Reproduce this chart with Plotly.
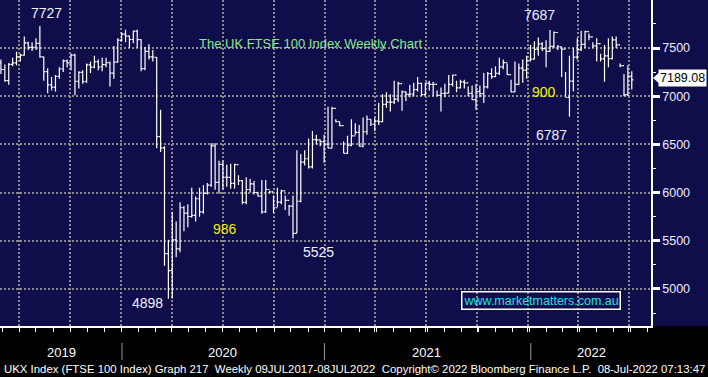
import pandas as pd
import plotly.graph_objects as go

# Weekly FTSE 100 OHLC (week ending Fridays)
opens = [7349,7277,7161,7331,7346,7407,7426,7553,7506,7508,7549,7407,7254,7117,7095,7207,7282,7367,7345,7426,
         7155,7247,7150,7324,7302,7359,7303,7327,7347,7240,7353,7582,
         7645,7623,7588,7675,7586,7286,7466,7409,7404,6581,6463,5366,5191,5510,5416,5843,5787,5752,
         5763,5936,5800,5993,6077,6484,6105,6292,6159,6157,6095,6290,6124,5898,6032,6090,6001,5963,
         5799,6032,6007,5843,5902,6017,5920,5860,5577,5910,6316,6351,6266,6550,6546,6529,
         6502,6461,6873,6736,6695,6407,6489,6589,6624,6483,6631,6761,6709,6741,6737,6916,6938,6938,
         6970,7130,7044,7018,7023,7069,7134,7017,7136,7123,7122,7008,7028,7032,7123,7218,7087,7148,
         7138,7029,6964,7051,7027,7096,7234,7204,7237,7304,7348,7224,7044,7122,7291,7270,7373,
         7385,7485,7543,7494,7466,7516,7661,7513,7489,6987,7156,7405,7483,7538,7670,7616,7522,
         7545,7388,7418,7390,7585,7533,7318,7016,7209,7169]
highs = [7380,7330,7345,7400,7460,7440,7620,7565,7560,7600,7727,7410,7290,7200,7220,7300,7380,7380,7440,7440,
         7260,7270,7340,7360,7420,7380,7400,7400,7360,7520,7600,7660,
         7690,7630,7680,7690,7590,7510,7540,7480,7405,6860,6480,5510,5800,5700,5900,5860,5880,6050,
         5960,6050,6080,6100,6511,6511,6330,6330,6290,6300,6300,6180,6130,6160,6140,6120,6010,6130,
         6130,6020,5970,6050,6030,5970,5870,5970,6440,6400,6440,6560,6640,6600,6550,
         6600,6890,6890,6760,6730,6530,6590,6760,6720,6700,6780,6800,6760,6780,6930,7020,7040,7020,
         7160,7150,7060,7050,7120,7140,7200,7140,7140,7160,7150,7060,7090,7130,7220,7220,7160,7170,
         7170,7100,7110,7130,7110,7240,7250,7290,7310,7400,7380,7340,7170,7360,7340,7380,7420,
         7530,7570,7610,7560,7580,7687,7670,7530,7510,7250,7420,7500,7600,7680,7680,7650,7560,
         7600,7440,7530,7600,7620,7620,7340,7230,7320,7260]
lows  = [7230,7150,7120,7310,7320,7360,7420,7480,7470,7480,7400,7160,7030,7060,7050,7180,7250,7300,7270,7010,
         7080,7130,7140,7240,7290,7270,7260,7300,7100,7180,7350,7570,
         7560,7500,7550,7500,7260,7270,7380,7360,6460,6420,5240,4898,4900,5330,5380,5600,5640,5740,
         5700,5750,5780,5980,6060,6030,5990,6030,6060,6040,6040,6080,5880,5880,6000,5980,5960,5780,
         5790,5990,5790,5850,5880,5820,5760,5525,5580,5900,6280,6250,6250,6500,6480,6310,
         6460,6460,6730,6690,6410,6400,6480,6600,6480,6470,6600,6690,6640,6700,6730,6880,6840,6920,
         6940,6850,6950,6990,7000,7050,7000,7010,7060,7000,7000,6840,6990,7030,7100,7040,7080,7080,
         7000,6960,6860,6990,6930,7080,7180,7200,7220,7280,7220,7040,7040,7120,7140,7180,7360,
         7380,7420,7470,7300,7460,7500,7480,7200,7000,6787,7050,7380,7470,7500,7580,7500,7360,
         7360,7150,7300,7380,7500,7300,7000,7000,7070,7030]
closes = opens[1:] + [7189.08]

last_price = 7189.08
y_ticks = [5000, 5500, 6000, 6500, 7000, 7500]
year_labels = ["2019", "2020", "2021", "2022"]
notes = ["7727", "7687", "6787", "4898", "5525"]
drops = ["986", "900"]
title_text = "The UK FTSE 100 Index Weekly Chart"
site_text = "www.marketmatters.com.au"
footer_text = ("UKX Index (FTSE 100 Index) Graph 217\u00a0 Weekly 09JUL2017-08JUL2022\u00a0 "
               "Copyright\u00a9 2022 Bloomberg Finance L.P.\u00a0 08-Jul-2022 07:13:47")

dates = pd.date_range("2019-05-24", periods=len(opens), freq="W-FRI")

W, H = 708, 377
PL, PR, PT, PB = 0, 57, 0, 51
pw, ph = W - PL - PR, H - PT - PB


def px(x):
    return (x - PL) / pw


def py(y):
    return (PT + ph - y) / ph


ref = pd.Timestamp("2020-02-28")
ppw = 3.894
x0 = ref - pd.Timedelta(days=156.7 / ppw * 7)
x1 = ref + pd.Timedelta(days=(pw - 156.7) / ppw * 7)

NAVY = "#100e4a"
GRID = "#8a8a8a"
FONT = "Liberation Sans, Arial"

fig = go.Figure(go.Ohlc(
    x=dates, open=opens, high=highs, low=lows, close=closes,
    increasing=dict(line=dict(color="white", width=1.2)),
    decreasing=dict(line=dict(color="white", width=1.2)),
    tickwidth=0.45, showlegend=False, hoverinfo="skip"))

ann = []


def label(text, x, y, size, color, **kw):
    d = dict(text=text, x=px(x), y=py(y), xref="paper", yref="paper", showarrow=False,
             xanchor="center", yanchor="middle", font=dict(family=FONT, size=size, color=color))
    d.update(kw)
    ann.append(d)


txt_col = "#eef0ff"
num_pos = [(46, 12.5), (539.5, 15), (551, 135), (147, 302.5), (318, 252)]
for t, (ax_, ay_) in zip(notes, num_pos):
    label(t, ax_, ay_, 14, txt_col)
for t, (ax_, ay_) in zip(drops, [(224.7, 229), (543.7, 92)]):
    label(t, ax_, ay_, 14, "#f2f200")
label(title_text, 310.5, 43, 13, "#86e88e")
label(site_text, 540.5, 300, 12.5, "#1ee0e8", bordercolor="white", borderwidth=1.5, borderpad=1)
for t, cx in zip(year_labels, [61, 222.6, 426.7, 591]):
    label(t, cx, 352, 13, "white")
label(footer_text, 354, 369, 11.4, "white")
ann.append(dict(text=f"{last_price:.2f}", x=px(658), y=last_price, xref="paper", yref="y",
                xanchor="left", yanchor="middle", showarrow=False, bgcolor="white", borderpad=1,
                font=dict(family=FONT, size=12.5, color="black")))

shapes = [
    dict(type="rect", xref="paper", yref="paper", x0=1, x1=1.2, y0=0, y1=1,
         fillcolor=NAVY, line=dict(width=0), layer="below"),
    dict(type="path", xref="paper", yref="y",
         path=f"M {px(653)},{last_price} L {px(659)},{last_price + 55} L {px(659)},{last_price - 55} Z",
         fillcolor="white", line=dict(width=0)),
]
for sx in [122, 324.4, 530.8]:
    shapes.append(dict(type="line", xref="paper", yref="paper", x0=px(sx), x1=px(sx),
                       y0=py(343), y1=py(360), line=dict(color="#9a9a9a", width=1)))

fig.update_layout(
    template="none", width=W, height=H, autosize=False,
    margin=dict(l=PL, r=PR, t=PT, b=PB, pad=0),
    paper_bgcolor="black", plot_bgcolor=NAVY,
    annotations=ann, shapes=shapes, showlegend=False, hovermode=False,
    xaxis=dict(type="date", range=[x0, x1], rangeslider=dict(visible=False),
               tickmode="linear", tick0="2019-06-26", dtick="M3",
               showgrid=True, gridcolor=GRID, gridwidth=2, griddash="2px,2px",
               ticks="outside", ticklen=4, tickwidth=1, tickcolor="white",
               showticklabels=False, showline=True, linecolor="white", linewidth=1.5,
               zeroline=False, automargin=False,
               minor=dict(tick0="2019-05-26", dtick="M1", ticks="outside", ticklen=4,
                          tickcolor="white", tickwidth=1, showgrid=False)),
    yaxis=dict(side="right", range=[4616, 7998], tickmode="array", tickvals=y_ticks,
               ticktext=[str(v) for v in y_ticks],
               showgrid=True, gridcolor=GRID, gridwidth=2, griddash="2px,2px",
               ticks="outside", ticklen=7, tickwidth=3, tickcolor="white",
               tickfont=dict(family=FONT, size=12.5, color="#e8ecff"),
               showline=True, linecolor="white", linewidth=1.5, zeroline=False, automargin=False,
               minor=dict(dtick=250, tick0=0, ticks="outside", ticklen=3, tickcolor="white",
                          tickwidth=1, showgrid=False)),
)

fig.write_html("out.html", config={"displayModeBar": False},
               post_script="document.body.style.margin='0';")
